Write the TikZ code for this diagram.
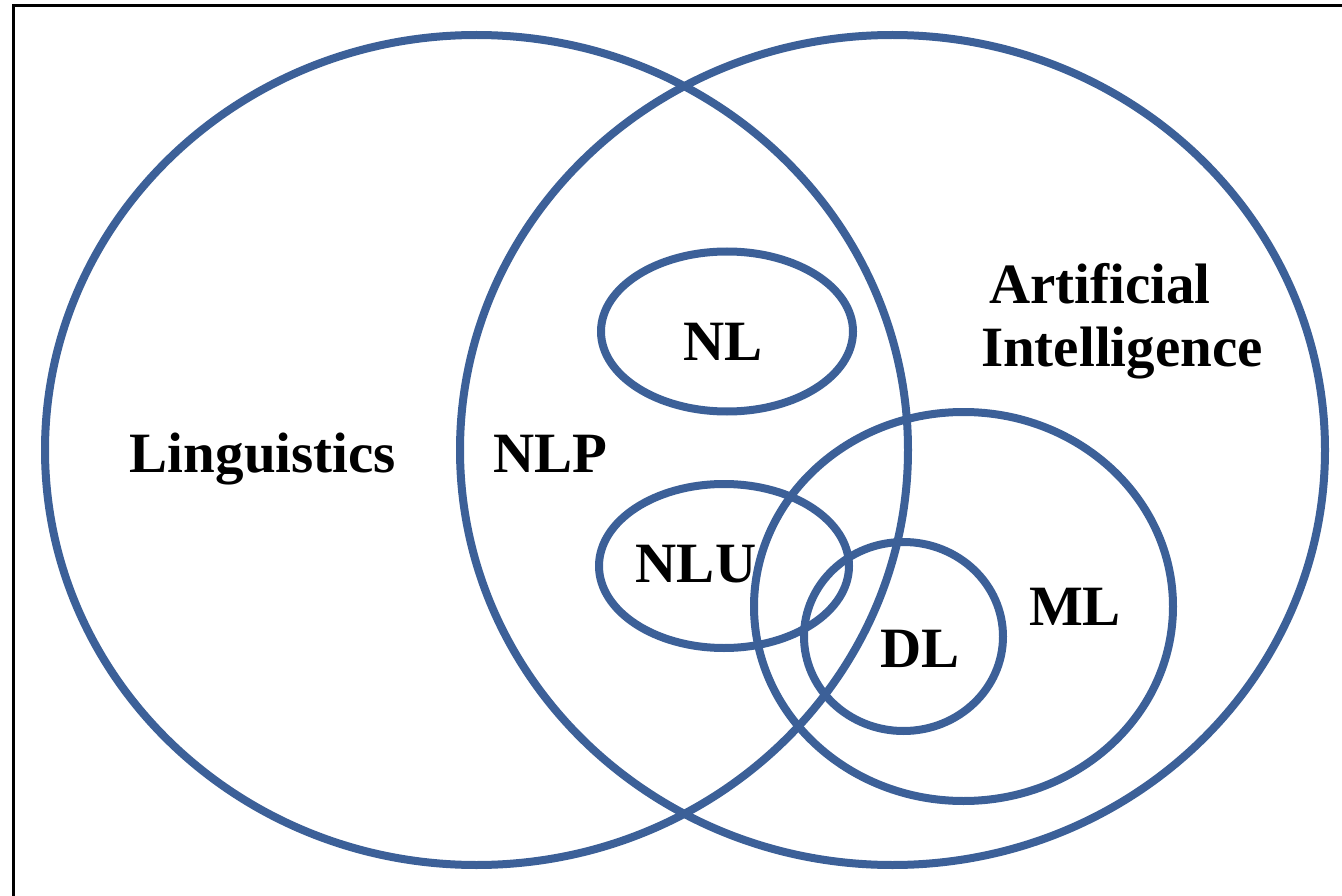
\documentclass[tikz,border=0pt]{standalone}
\usepackage{fontspec}
\setmainfont{Liberation Serif}
\definecolor{vblue}{RGB}{60,96,152}
\begin{document}
\begin{tikzpicture}[x=1pt,y=-1pt,
  ring/.style={draw=vblue,line width=8pt},
  lbl/.style={anchor=base,inner sep=0pt,font=\fontsize{57}{68}\selectfont\bfseries}]
\useasboundingbox (0,0) rectangle (1342,896);
\fill[white] (0,0) rectangle (1342,896);
% frame (top and left visible)
\coordinate (fbl) at (13,896);
\coordinate (ftl) at (13,6);
\coordinate (ftr) at (1342,6);
\draw[black,line width=3pt] (fbl) -- (ftl) -- (ftr);
% circles
\draw[ring] (476.5,450) ellipse [x radius=431.5, y radius=415];
\draw[ring] (892.5,450) ellipse [x radius=432.5, y radius=415];
\draw[ring] (727,331.5) ellipse [x radius=126, y radius=80];
\draw[ring] (724,566) ellipse [x radius=125, y radius=82];
\draw[ring] (963.5,606.5) ellipse [x radius=209.5, y radius=194.5];
\draw[ring] (903.5,636.5) ellipse [x radius=99.5, y radius=94.5];
% labels
\node[lbl] (ling) at (263,472) {Linguistics};
\node[lbl] (nlp) at (550,472) {NLP};
\node[lbl] (nl) at (723,360) {NL};
\node[lbl] (nlu) at (696,582) {NLU};
\node[lbl] (dl) at (920,667) {DL};
\node[lbl] (ml) at (1075,625) {ML};
\node[lbl] (ai1) at (1100,303) {Artificial};
\node[lbl] (ai2) at (1122,366) {Intelligence};
\end{tikzpicture}
\end{document}
